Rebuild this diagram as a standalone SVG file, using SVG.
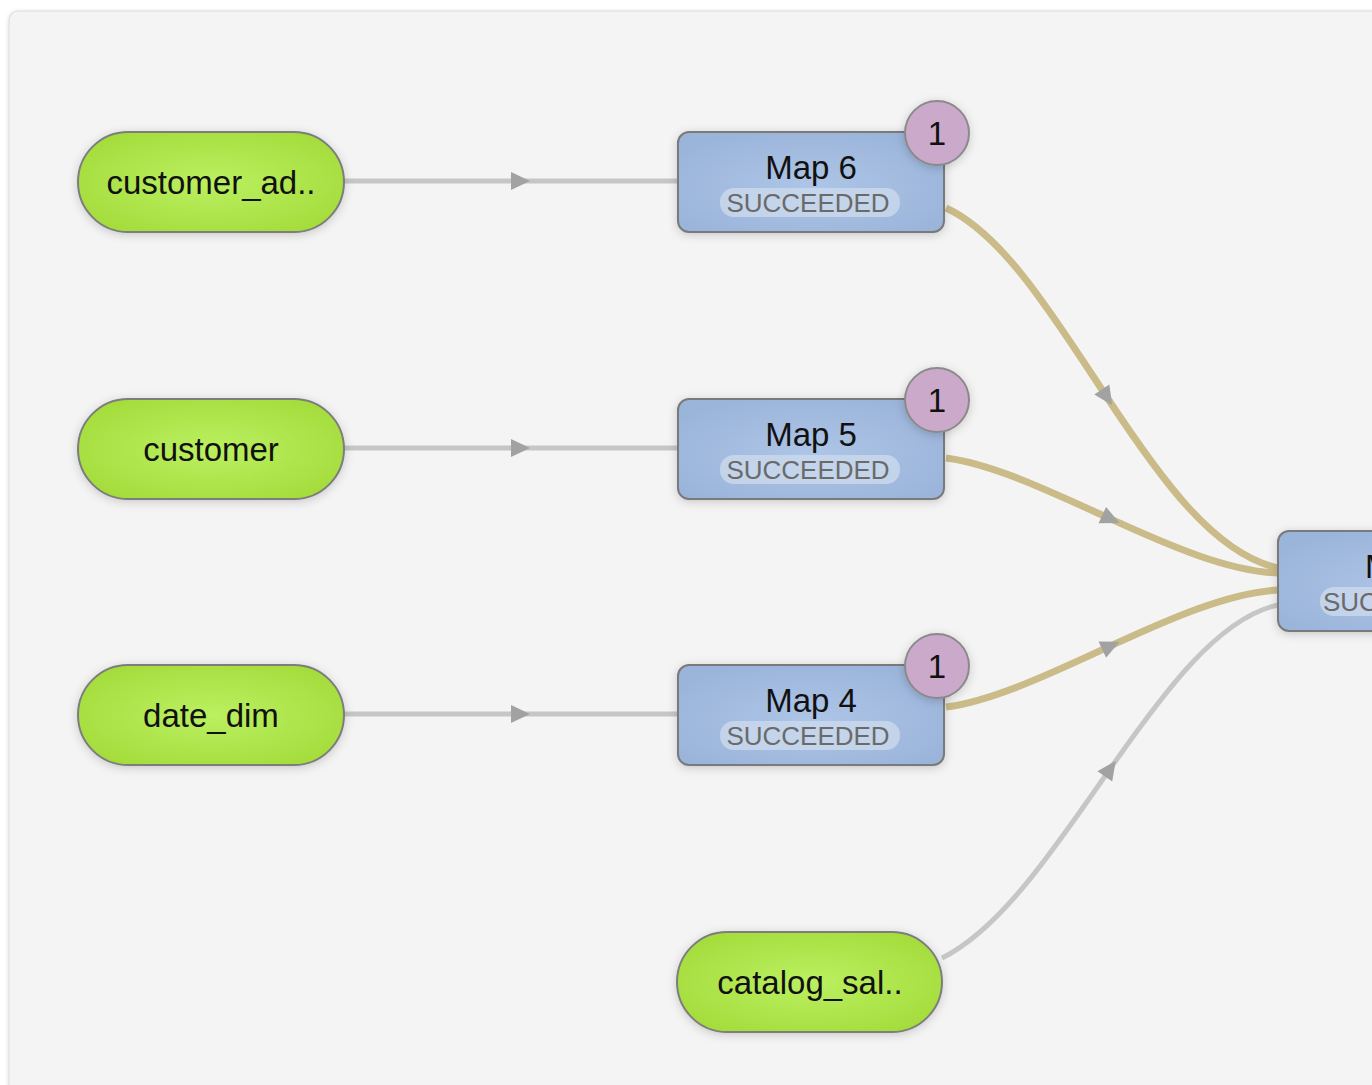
<svg xmlns="http://www.w3.org/2000/svg" width="1372" height="1085" viewBox="0 0 1372 1085">
<style>
.pill{stroke:#7d7d7d;stroke-width:2;fill:url(#gGreen);filter:url(#sh)}
.vtx{stroke:#7a7a7a;stroke-width:2;fill:url(#gBlue);filter:url(#sh)}
.badge{stroke:#8a8a8a;stroke-width:2;fill:#cba9ca;filter:url(#sh)}
.stat{fill:#c9d8ec;opacity:0.85}
.t{font-family:"Liberation Sans",Arial,sans-serif;fill:#111}
.lbl{font-size:33px;text-anchor:middle}
.st{font-family:"Liberation Sans",Arial,sans-serif;font-size:26px;fill:#6a6a6a;text-anchor:middle}
.e-gray{fill:none;stroke:#c6c6c6;stroke-width:5;marker-mid:url(#arr)}
.e-tan{fill:none;stroke:#cabb88;stroke-width:7;marker-mid:url(#arr)}
</style>
<defs>
<radialGradient id="gGreen" cx="0.5" cy="0.5" r="0.6">
<stop offset="0" stop-color="#bbf060"/>
<stop offset="1" stop-color="#a4dc3c"/>
</radialGradient>
<radialGradient id="gBlue" cx="0.5" cy="0.55" r="0.6">
<stop offset="0" stop-color="#adc5e6"/>
<stop offset="1" stop-color="#9bb4da"/>
</radialGradient>
<filter id="sh" x="-20%" y="-30%" width="140%" height="160%">
<feDropShadow dx="0" dy="2" stdDeviation="5" flood-color="#000" flood-opacity="0.18"/>
</filter>
<filter id="psh" x="-5%" y="-5%" width="110%" height="110%">
<feDropShadow dx="0" dy="1" stdDeviation="2" flood-color="#000" flood-opacity="0.12"/>
</filter>
<marker id="arr" markerUnits="userSpaceOnUse" markerWidth="20" markerHeight="20" refX="0" refY="0" orient="auto" overflow="visible">
<path d="M-9,-9 L10,0 L-9,9 Z" fill="#a2a2a2"/>
</marker>
</defs>
<rect x="0" y="0" width="1372" height="1085" fill="#ffffff"/>
<rect x="9" y="11" width="1420" height="1110" rx="9" fill="#f4f4f4" stroke="#e3e3e3" stroke-width="1.5" filter="url(#psh)"/>

<g id="connectors">
<path class="e-gray" d="M344,181 L520,181 L678,181"/>
<path class="e-gray" d="M344,448 L520,448 L678,448"/>
<path class="e-gray" d="M344,714 L520,714 L678,714"/>
<path class="e-tan" d="M946,208 C1003,234 1054,317 1106.75,397 C1159.5,477 1214,554 1278,568"/>
<path class="e-tan" d="M946,458 C993,464 1051.5,492 1110.5,518.9 C1169.5,545.75 1229,571.5 1278,573"/>
<path class="e-tan" d="M946,707 C993,701 1051.5,673 1110.5,645.9 C1169.5,618.75 1229,592.5 1278,590"/>
<path class="e-gray" d="M942,958 C1001,929 1055.5,847 1110,769 C1164.5,691.25 1219,617.5 1278,605"/>
</g>

<g id="customer_ad">
<rect class="pill" x="78" y="132" width="266" height="100" rx="50"/>
<text class="t lbl" x="211" y="194">customer_ad..</text>
</g>
<g id="customer">
<rect class="pill" x="78" y="399" width="266" height="100" rx="50"/>
<text class="t lbl" x="211" y="461">customer</text>
</g>
<g id="date_dim">
<rect class="pill" x="78" y="665" width="266" height="100" rx="50"/>
<text class="t lbl" x="211" y="727">date_dim</text>
</g>
<g id="catalog_sal">
<rect class="pill" x="677" y="932" width="265" height="100" rx="50"/>
<text class="t lbl" x="810" y="994">catalog_sal..</text>
</g>

<g id="map6">
<rect class="vtx" x="678" y="132" width="266" height="100" rx="11"/>
<rect class="stat" x="720" y="188" width="180" height="29" rx="14"/>
<text class="t lbl" x="811" y="179">Map 6</text>
<text class="st" x="808" y="212">SUCCEEDED</text>
<circle class="badge" cx="937" cy="133" r="32"/>
<text class="t lbl" x="937" y="145">1</text>
</g>
<g id="map5">
<rect class="vtx" x="678" y="399" width="266" height="100" rx="11"/>
<rect class="stat" x="720" y="455" width="180" height="29" rx="14"/>
<text class="t lbl" x="811" y="446">Map 5</text>
<text class="st" x="808" y="479">SUCCEEDED</text>
<circle class="badge" cx="937" cy="400" r="32"/>
<text class="t lbl" x="937" y="412">1</text>
</g>
<g id="map4">
<rect class="vtx" x="678" y="665" width="266" height="100" rx="11"/>
<rect class="stat" x="720" y="721" width="180" height="29" rx="14"/>
<text class="t lbl" x="811" y="712">Map 4</text>
<text class="st" x="808" y="745">SUCCEEDED</text>
<circle class="badge" cx="937" cy="666" r="32"/>
<text class="t lbl" x="937" y="678">1</text>
</g>
<g id="map_right">
<rect class="vtx" x="1278" y="531" width="266" height="100" rx="11"/>
<rect class="stat" x="1320" y="587" width="180" height="29" rx="14"/>
<text class="t" font-size="33" x="1365" y="578">M</text>
<text class="st" style="text-anchor:start" x="1323" y="611">SUC</text>
</g>
</svg>
